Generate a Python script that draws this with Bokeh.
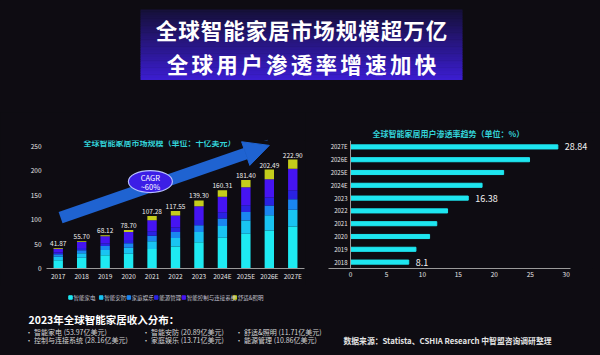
from bokeh.plotting import figure
from bokeh.layouts import column, row
from bokeh.models import (Range1d, FactorRange, ColumnDataSource, Arrow, NormalHead,
                          Label, FixedTicker, Span)
from bokeh.embed import file_html
from bokeh.resources import INLINE
from bokeh.core.properties import value
import numpy as np

# ---------------- data ----------------
title_lines = ["全球智能家居市场规模超万亿", "全球用户渗透率增速加快"]
market_title = "全球智能家居市场规模（单位：十亿美元）"
pen_title = "全球智能家居用户渗透率趋势（单位：%）"

years = ["2017", "2018", "2019", "2020", "2021", "2022", "2023",
         "2024E", "2025E", "2026E", "2027E"]
segments = ["智能家电", "智能安防", "家庭娱乐", "能源管理", "智能控制与连接系统", "舒适&照明"]
appliances = [17.0, 22.0, 27.0, 30.0, 40.0, 45.0, 53.97, 63.0, 71.0, 78.0, 86.0]
security = [7.0, 9.0, 11.0, 12.5, 16.0, 17.5, 20.89, 24.0, 27.0, 31.0, 34.0]
entertainment = [5.0, 6.5, 8.0, 9.0, 11.0, 12.0, 13.71, 15.5, 17.5, 20.0, 22.0]
energy = [3.5, 4.5, 5.5, 7.0, 9.0, 9.5, 10.86, 12.5, 14.0, 16.5, 18.0]
control = [8.0, 12.0, 14.5, 16.0, 23.0, 24.5, 28.16, 32.0, 37.0, 37.0, 44.0]
comfort = [1.37, 1.7, 2.12, 4.2, 8.28, 9.05, 11.71, 13.31, 14.9, 19.99, 18.9]
totals = [41.87, 55.70, 68.12, 78.70, 107.28, 117.55, 139.30, 160.31, 181.40, 202.49, 222.90]
y_ticks = [0, 50, 100, 150, 200, 250]

cagr_text = ["CAGR", "~60%"]

pen_years = ["2018", "2019", "2020", "2021", "2022", "2023", "2024E", "2025E", "2026E", "2027E"]
pen_rates = [8.1, 9.1, 11.0, 12.0, 13.5, 16.38, 18.3, 21.3, 24.9, 28.84]
pen_labelled = ["2018", "2023", "2027E"]
x_ticks = [0, 5, 10, 15, 20, 25, 30]

rev_heading = "2023年全球智能家居收入分布："
rev_names = ["智能家电", "智能安防", "舒适&照明", "控制与连接系统", "家庭娱乐", "能源管理"]
rev_values = [53.97, 20.89, 11.71, 28.16, 13.71, 10.86]
source_text = "数据来源：Statista、CSHIA Research 中智盟咨询调研整理"

# ---------------- styles ----------------
BG = "#0e0c12"
CJK = "Noto Sans CJK SC"
seg_colors = ["#1eeaf2", "#19c4f2", "#1a86f0", "#2a22e2", "#4614f2", "#c4cc1c"]
CYAN_TITLE = "#33d2d8"
AXIS = "#9a9a9a"


def canvas(w, h):
    p = figure(width=w, height=h, x_range=Range1d(0, w), y_range=Range1d(h, 0),
               output_backend="svg", toolbar_location=None, min_border=0,
               x_axis_location=None, y_axis_location=None, title=None)
    p.grid.visible = False
    p.outline_line_color = None
    p.background_fill_color = BG
    p.border_fill_color = BG
    return p


def style_axis(ax, size, standoff):
    ax.axis_line_color = AXIS
    ax.major_tick_line_color = None
    ax.minor_tick_line_color = None
    ax.major_tick_out = 0
    ax.major_tick_in = 0
    ax.minor_tick_out = 0
    ax.minor_tick_in = 0
    ax.major_label_text_color = "#e6e6e6"
    ax.major_label_text_font = CJK
    ax.major_label_text_font_size = size
    ax.major_label_standoff = standoff


# ---------------- header (page y 0..112) ----------------
W = 600
header = canvas(W, 112)
n = 40
edges = np.linspace(9, 79, n + 1)
c0 = np.array([0x16, 0x10, 0x3a])
c1 = np.array([0x3b, 0x1d, 0xcf])
cols = ["#%02x%02x%02x" % tuple((c0 + (c1 - c0) * (i / (n - 1))).astype(int)) for i in range(n)]
header.quad(left=140, right=462, top=edges[:-1], bottom=edges[1:] + 0.5, color=cols, line_color=None)
for line, yc, step in zip(title_lines, [29, 63], [22.5, 24.8]):
    chars = list(line)
    xs = [301 + (i - (len(chars) - 1) / 2) * step for i in range(len(chars))]
    header.text(x=xs, y=[yc] * len(chars), text=chars, text_color="white",
                text_font=value(CJK), text_font_size="21.5px", text_font_style="bold",
                text_align="center", text_baseline="middle")

# ---------------- left: market size (page x 0..305, y 112..285) ----------------
src = ColumnDataSource(dict(years=years, totals=totals,
                            tot_lbl=["%.2f" % t for t in totals],
                            **dict(zip(segments, [appliances, security, entertainment,
                                                  energy, control, comfort]))))
left = figure(width=305, height=173, x_range=FactorRange(*years), y_range=Range1d(0, 262),
              output_backend="svg", toolbar_location=None, title=None,
              min_border_left=46, min_border_right=1, min_border_top=12, min_border_bottom=17)
left.background_fill_color = BG
left.border_fill_color = BG
left.outline_line_color = None
left.grid.visible = False

left.vbar_stack(segments, x="years", width=0.4, color=seg_colors, source=src, line_color=None)
left.text(x="years", y="totals", text="tot_lbl", source=src, y_offset=-2,
          text_color="#f0f0f0", text_font=value(CJK), text_font_size="6.5px",
          text_align="center", text_baseline="bottom")

arrow = Arrow(x_start=0.6, y_start=104, x_end=9.5, y_end=252,
              line_color="#1f63d1", line_width=12,
              end=NormalHead(size=25, fill_color="#1f63d1", line_color="#1f63d1"),
              level="glyph")
left.add_layout(arrow)
left.ellipse(x=[4.43], y=[178], width=44, height=22, width_units="screen",
             height_units="screen", fill_color="#3c1ee6", line_color="#b8c0ff",
             line_width=1.2, level="overlay")
left.text(x=[4.43, 4.43], y=[178, 178], y_offset=[-4.5, 4.5], text=cagr_text,
          text_color="white", text_font=value(CJK), text_font_size="7.5px",
          text_align="center", text_baseline="middle", level="overlay")
left.add_layout(Label(x=4.82, y=257, text=market_title, text_color=CYAN_TITLE,
                      text_font=CJK, text_font_size="8px", text_font_style="bold",
                      text_align="center", text_baseline="middle"))

left.yaxis.ticker = FixedTicker(ticks=y_ticks)
style_axis(left.yaxis, "6.5px", 5)
left.yaxis.axis_line_color = None
style_axis(left.xaxis, "6.5px", 2)

# ---------------- right: penetration (page x 305..600) ----------------
psrc = ColumnDataSource(dict(y=pen_years, r=pen_rates))
lsrc = ColumnDataSource(dict(y=[y for y in pen_years if y in pen_labelled],
                             r=[r for y, r in zip(pen_years, pen_rates) if y in pen_labelled],
                             t=[("%g" % r) for y, r in zip(pen_years, pen_rates) if y in pen_labelled]))
right = figure(width=295, height=173, x_range=Range1d(-3.06, 33.66), y_range=FactorRange(*pen_years),
               output_backend="svg", toolbar_location=None,
               min_border_left=23, min_border_right=8, min_border_top=28, min_border_bottom=15)
right.background_fill_color = BG
right.border_fill_color = BG
right.outline_line_color = None
right.grid.visible = False
right.add_layout(Span(location=0, dimension="height", line_color=AXIS, line_width=1))
right.hbar(y="y", right="r", height=0.32, color="#1ee6f0", source=psrc)
right.text(x="r", y="y", text="t", source=lsrc, x_offset=7,
           text_color="#f0f0f0", text_font=value(CJK), text_font_size="9px",
           text_baseline="middle")
right.title.text = pen_title
right.title.text_color = CYAN_TITLE
right.title.text_font = CJK
right.title.text_font_size = "8px"
right.title.text_font_style = "bold"
right.title.align = "left"
right.title.offset = 44
right.title.standoff = 3
right.xaxis.ticker = FixedTicker(ticks=x_ticks)
right.xaxis.bounds = (-3.06, 30.6)
style_axis(right.xaxis, "6.5px", 3)
style_axis(right.yaxis, "6px", -19)
right.yaxis.axis_line_color = None

# ---------------- footer (page y 285..355) ----------------
footer = canvas(W, 70)
legend_x = [70, 100.7, 128.3, 155.7, 183.3, 234.3]
footer.rect(x=legend_x, y=[12] * 6, width=3.5, height=3.5, color=seg_colors)
footer.text(x=[lx + 3 for lx in legend_x], y=[12] * 6, text=segments, text_color="#c4c4d0",
            text_font=value(CJK), text_font_size="5.5px", text_baseline="middle")
footer.text(x=[28], y=[34], text=[rev_heading], text_color="white", text_font=value(CJK),
            text_font_size="10.5px", text_font_style="bold", text_baseline="middle")
rev_lines = ["· %s (%.2f亿美元)" % (nm, v) for nm, v in zip(rev_names, rev_values)]
footer.text(x=[25, 142, 235, 25, 142, 235], y=[46, 46, 46, 54.5, 54.5, 54.5],
            text=rev_lines, text_color="#d4d4d4",
            text_font=value(CJK), text_font_size="7px", text_baseline="middle")
footer.text(x=[343], y=[55], text=[source_text], text_color="#e4e4e4", text_font=value(CJK),
            text_font_size="7.8px", text_font_style="bold", text_baseline="middle")

layout = column(header, row(left, right), footer, styles={"background-color": BG})
open("out.html", "w").write(file_html(layout, INLINE))
